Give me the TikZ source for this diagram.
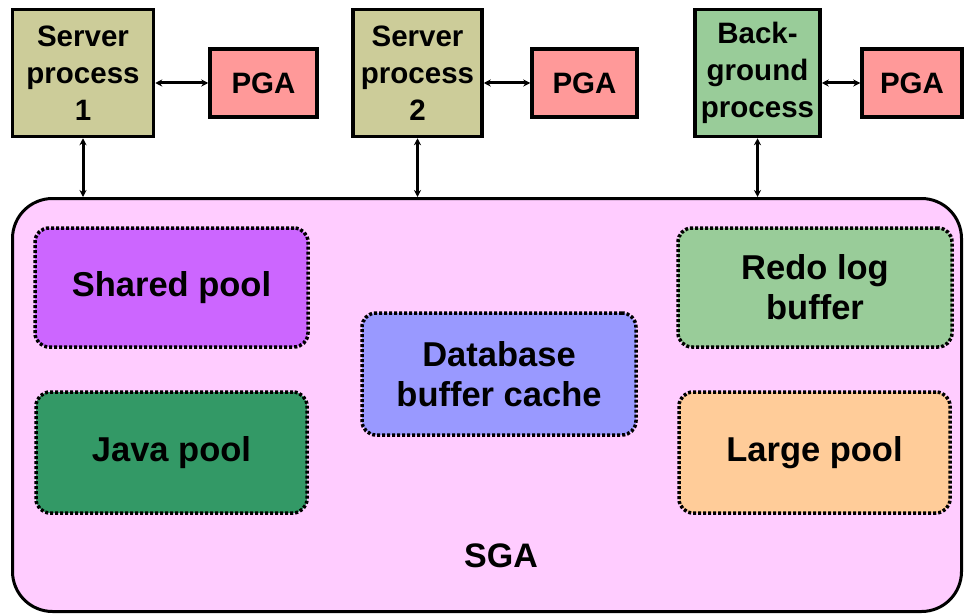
\documentclass[tikz,border=0pt]{standalone}
\usepackage{fontspec}
\setmainfont{Liberation Sans}
\usetikzlibrary{arrows.meta}
\definecolor{proc}{HTML}{CCCC99}
\definecolor{bgproc}{HTML}{99CC99}
\definecolor{pga}{HTML}{FF9999}
\definecolor{sga}{HTML}{FFCCFF}
\definecolor{shared}{HTML}{CC66FF}
\definecolor{redo}{HTML}{99CC99}
\definecolor{dbc}{HTML}{9999FF}
\definecolor{java}{HTML}{339966}
\definecolor{large}{HTML}{FFCC99}
\tikzset{
  procbox/.style={draw=black, line width=3.5pt, rectangle, inner sep=0pt, align=center,
    font=\fontsize{29.5}{37}\selectfont\bfseries},
  pgabox/.style={draw=black, line width=3.5pt, fill=pga, rectangle, inner sep=0pt,
    minimum height=68pt, font=\fontsize{29.5}{34}\selectfont\bfseries},
  poolbox/.style={draw=black, line width=3.5pt, dash pattern=on 3pt off 2pt,
    rounded corners=14pt, rectangle, inner sep=0pt, align=center,
    font=\fontsize{34.5}{40}\selectfont\bfseries},
  link/.style={line width=3pt, {Stealth[length=7pt,width=7pt]}-{Stealth[length=7pt,width=7pt]}}
}
\begin{document}
\begin{tikzpicture}[x=1pt,y=-1pt]
\useasboundingbox (0,0) rectangle (964,615);
% SGA
\node[draw=black, line width=3pt, fill=sga, rounded corners=40pt, rectangle,
  minimum width=949pt, minimum height=413pt, inner sep=0pt] (sga) at (487,405) {};
\node[font=\fontsize{34}{38}\selectfont\bfseries] (sgalabel) at (501,556) {SGA};
% processes
\node[procbox, fill=proc, minimum width=141pt, minimum height=127pt] (sp1) at (83,73) {Server\\process\\1};
\node[procbox, fill=proc, minimum width=129pt, minimum height=127pt] (sp2) at (417.5,73) {Server\\process\\2};
\node[procbox, fill=bgproc, minimum width=125pt, minimum height=127pt] (bg) at (757.5,73) {Back-\\ground\\process};
\node[pgabox, minimum width=107pt] (pga1) at (263.5,83) {PGA};
\node[pgabox, minimum width=105pt] (pga2) at (584.5,83) {PGA};
\node[pgabox, minimum width=100pt] (pga3) at (912,83) {PGA};
% links
\draw[link] (pga1.west -| sp1.east) -- (pga1.west);
\draw[link] (pga2.west -| sp2.east) -- (pga2.west);
\draw[link] (pga3.west -| bg.east) -- (pga3.west);
\draw[link] (sp1.south) -- (sp1.south |- sga.north);
\draw[link] (sp2.south) -- (sp2.south |- sga.north);
\draw[link] (bg.south) -- (bg.south |- sga.north);
% pools
\node[poolbox, fill=shared, minimum width=273pt, minimum height=119pt] (shp) at (171.5,287.5) {Shared pool};
\node[poolbox, fill=redo, minimum width=274pt, minimum height=119pt] (rlb) at (815,287.5) {Redo log\\buffer};
\node[poolbox, fill=dbc, minimum width=274pt, minimum height=122pt] (dbbc) at (499,374) {Database\\buffer cache};
\node[poolbox, fill=java, minimum width=271pt, minimum height=121pt] (jp) at (171.5,452.5) {Java pool};
\node[poolbox, fill=large, minimum width=271pt, minimum height=121pt] (lp) at (814.5,452.5) {Large pool};
\end{tikzpicture}
\end{document}
